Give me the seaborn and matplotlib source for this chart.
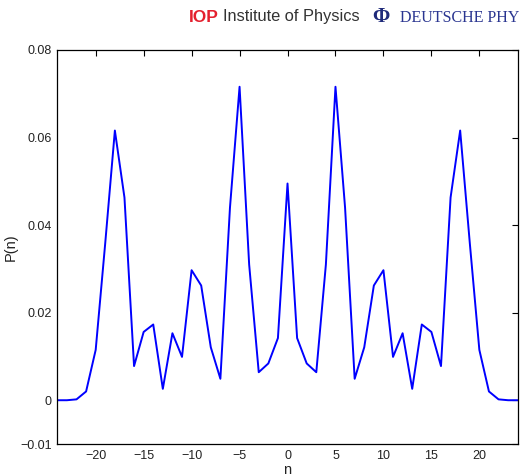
import matplotlib
matplotlib.use("Agg")
import matplotlib.pyplot as plt
import seaborn as sns
import pandas as pd
from matplotlib.ticker import FuncFormatter

n_values = list(range(-24, 25))
p_values = [
    0.0000, 0.0000, 0.0002, 0.0020, 0.0115, 0.0360, 0.0616, 0.0463, 0.0078,
    0.0156, 0.0173, 0.0026, 0.0153, 0.0099, 0.0297, 0.0262, 0.0121, 0.0049,
    0.0440, 0.0716, 0.0310, 0.0064, 0.0084, 0.0142,
    0.0495,
    0.0142, 0.0084, 0.0064, 0.0310, 0.0716, 0.0440, 0.0049, 0.0121, 0.0262,
    0.0297, 0.0099, 0.0153, 0.0026, 0.0173, 0.0156, 0.0078, 0.0463, 0.0616,
    0.0360, 0.0115, 0.0020, 0.0002, 0.0000, 0.0000,
]
x_ticks = [-20, -15, -10, -5, 0, 5, 10, 15, 20]
y_ticks = [-0.01, 0, 0.02, 0.04, 0.06, 0.08]

df = pd.DataFrame({"n": n_values, "P": p_values})

sns.set_theme(style="white")
plt.rcParams["font.family"] = ["Liberation Sans", "DejaVu Sans"]

fig = plt.figure(figsize=(5.23, 4.76), dpi=100)
ax = fig.add_axes([0.1096, 0.0672, 0.8803, 0.8278])

sns.lineplot(data=df, x="n", y="P", ax=ax, color="#0000ff", linewidth=1.4)

ax.set_xlim(-24, 24)
ax.set_ylim(-0.01, 0.08)
ax.set_xticks(x_ticks)
ax.set_yticks(y_ticks)

def yfmt(v, pos):
    if abs(v) < 1e-12:
        return "0"
    s = f"{v:.2f}"
    return s.replace("-", "\u2212")

def xfmt(v, pos):
    return f"{int(round(v))}".replace("-", "\u2212")

ax.yaxis.set_major_formatter(FuncFormatter(yfmt))
ax.xaxis.set_major_formatter(FuncFormatter(xfmt))
ax.tick_params(direction="in", length=4, width=0.8, top=True, right=True,
               labelsize=9, colors="black", labelcolor="#222222", pad=4)
for s in ax.spines.values():
    s.set_visible(True)
    s.set_color("black")
    s.set_linewidth(0.9)

ax.set_xlabel("n", fontsize=10.5, color="#222222", labelpad=1)
ax.set_ylabel("P(n)", fontsize=10.5, color="#222222", labelpad=2)

# header logo text
fig.text(189 / 523, 1 - 17 / 476, "IOP", color="#e4202e", fontsize=12.5,
         fontweight="bold", va="center", ha="left")
fig.text(223 / 523, 1 - 17 / 476, "Institute of Physics", color="#333333",
         fontsize=11.8, va="center", ha="left",
         family=["Liberation Sans Narrow", "Liberation Sans", "DejaVu Sans"])
fig.text(372 / 523, 1 - 17 / 476, "\u03a6", color="#1f2a7a", fontsize=15,
         fontweight="bold", va="center", ha="left",
         family=["Liberation Serif", "DejaVu Serif"])
fig.text(400 / 523, 1 - 18 / 476, "DEUTSCHE PHY",
         color="#2a3590", fontsize=11.5, va="center", ha="left",
         family=["Liberation Serif", "DejaVu Serif"])

fig.savefig("out.png", dpi=100)
